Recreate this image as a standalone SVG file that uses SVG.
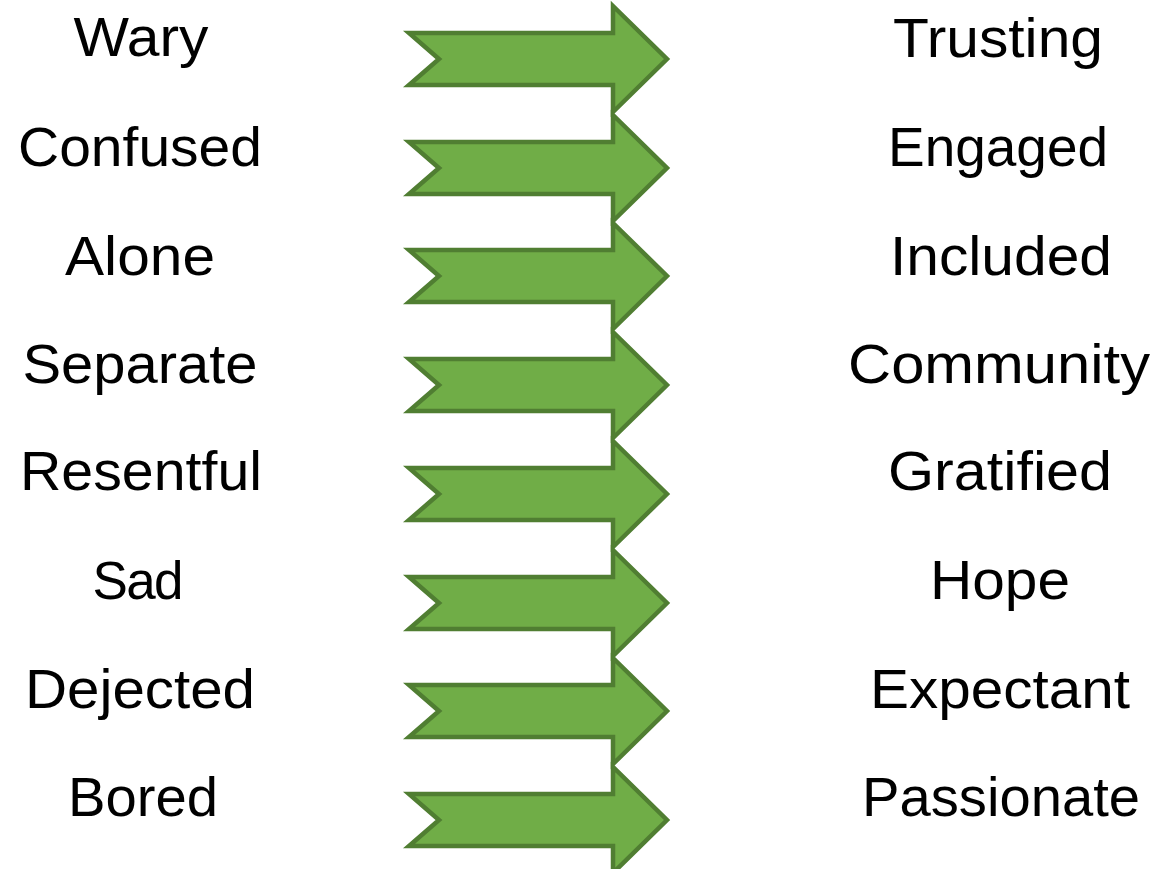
<svg xmlns="http://www.w3.org/2000/svg" xmlns:xlink="http://www.w3.org/1999/xlink" width="1161" height="869" viewBox="0 0 1161 869">
<defs>
<style>
.t{font-family:"Liberation Sans",Arial,sans-serif;font-size:56px;fill:#000;text-anchor:middle}
.arr{fill:#70AD47;stroke:#507E32;stroke-width:4.5;stroke-linejoin:miter}
</style>
<path id="ar" class="arr" d="M409,-26 L613,-26 L613,-53 L667,0 L613,53 L613,26 L409,26 L439,0 Z"/>
</defs>
<rect width="1161" height="869" fill="#fff"/>
<g id="connectors">
<use xlink:href="#ar" href="#ar" transform="translate(0,59)"/>
<use xlink:href="#ar" href="#ar" transform="translate(0,168)"/>
<use xlink:href="#ar" href="#ar" transform="translate(0,276)"/>
<use xlink:href="#ar" href="#ar" transform="translate(0,385)"/>
<use xlink:href="#ar" href="#ar" transform="translate(0,494)"/>
<use xlink:href="#ar" href="#ar" transform="translate(0,603)"/>
<use xlink:href="#ar" href="#ar" transform="translate(0,711)"/>
<use xlink:href="#ar" href="#ar" transform="translate(0,820)"/>
</g>
<g id="n-wary"><text class="t" x="141" y="56" textLength="135" lengthAdjust="spacingAndGlyphs">Wary</text></g>
<g id="n-confused"><text class="t" x="140" y="166" textLength="244" lengthAdjust="spacingAndGlyphs">Confused</text></g>
<g id="n-alone"><text class="t" x="140" y="275" textLength="150" lengthAdjust="spacingAndGlyphs">Alone</text></g>
<g id="n-separate"><text class="t" x="140" y="383" textLength="235" lengthAdjust="spacingAndGlyphs">Separate</text></g>
<g id="n-resentful"><text class="t" x="141" y="490" textLength="242" lengthAdjust="spacingAndGlyphs">Resentful</text></g>
<g id="n-sad"><text class="t" x="138" y="599" textLength="91" lengthAdjust="spacing" style="font-size:53px">Sad</text></g>
<g id="n-dejected"><text class="t" x="140" y="708" textLength="230" lengthAdjust="spacingAndGlyphs">Dejected</text></g>
<g id="n-bored"><text class="t" x="143" y="816" textLength="150" lengthAdjust="spacingAndGlyphs">Bored</text></g>
<g id="n-trusting"><text class="t" x="998" y="57" textLength="210" lengthAdjust="spacingAndGlyphs">Trusting</text></g>
<g id="n-engaged"><text class="t" x="998" y="166" textLength="220" lengthAdjust="spacingAndGlyphs">Engaged</text></g>
<g id="n-included"><text class="t" x="1001" y="275" textLength="222" lengthAdjust="spacingAndGlyphs">Included</text></g>
<g id="n-community"><text class="t" x="999" y="383" textLength="302" lengthAdjust="spacingAndGlyphs">Community</text></g>
<g id="n-gratified"><text class="t" x="1000" y="490" textLength="224" lengthAdjust="spacingAndGlyphs">Gratified</text></g>
<g id="n-hope"><text class="t" x="1000" y="599" textLength="140" lengthAdjust="spacingAndGlyphs">Hope</text></g>
<g id="n-expectant"><text class="t" x="1000" y="708" textLength="260" lengthAdjust="spacingAndGlyphs">Expectant</text></g>
<g id="n-passionate"><text class="t" x="1001" y="816" textLength="278" lengthAdjust="spacingAndGlyphs">Passionate</text></g>
</svg>
